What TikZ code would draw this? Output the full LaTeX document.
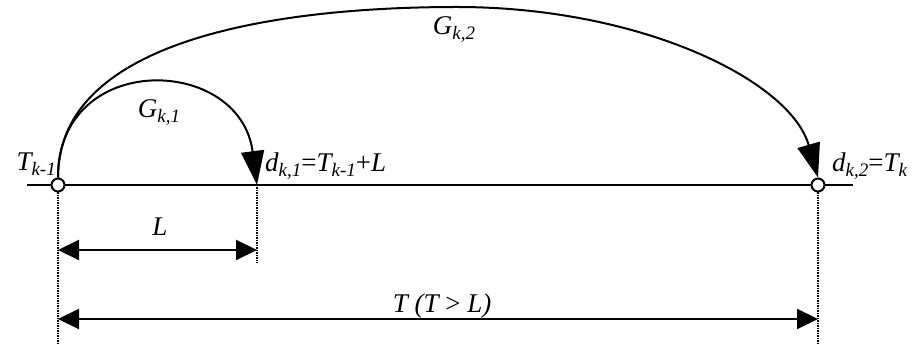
\documentclass[tikz,border=0pt]{standalone}
\usepackage{fontspec}
\setmainfont{Liberation Serif}
\usetikzlibrary{positioning, arrows.meta}
\newcommand{\lowidx}[1]{\raisebox{-0.35ex}{\fontsize{19}{22}\selectfont #1}}

\begin{document}
\begin{tikzpicture}[x=1pt, y=-1pt,
    tpoint/.style={circle, draw, line width=2pt, fill=white, inner sep=0pt, minimum size=13pt},
    lbl/.style={font=\fontsize{27}{32}\selectfont\itshape, inner sep=0pt},
    jump/.style={line width=2pt, -{Triangle[length=34pt, width=23pt]}},
    dim/.style={line width=2pt, {Triangle[length=21pt, width=20pt]}-{Triangle[length=21pt, width=20pt]}},
    guide/.style={densely dotted, line width=1.5pt}
]
\useasboundingbox (0,0) rectangle (917,344);

% Time axis
\coordinate (ax0) at (27,185);
\coordinate (ax1) at (853,185);
\draw[line width=2pt] (ax0) -- (ax1);
\coordinate (dk1) at (257,185);

% Dotted guides
\coordinate (g0) at (58,344);
\coordinate (g1) at (257,263);
\coordinate (g2) at (818,344);
\draw[guide] (dk1) -- (g1);

% Jumps
\node[tpoint] (tk1) at (58,185) {};
\node[tpoint] (tk) at (818,185) {};
\coordinate (top) at (457,7);
\draw[guide] (tk1.south) -- (g0);
\draw[guide] (tk.south) -- (g2);
\draw[jump] (tk1.north) .. controls (58,50) and (240,55) .. (dk1);
\draw[jump] (tk1.north) .. controls (58,35) and (290,7) .. (top)
    .. controls (640,7) and (790,80) .. (tk.north);

% Dimensions
\coordinate (l0) at (58,250);
\coordinate (l1) at (257,250);
\coordinate (t0) at (58,319);
\coordinate (t1) at (818,319);
\draw[dim] (l0) -- (l1);
\draw[dim] (t0) -- (t1);

% Labels
\node[lbl, anchor=base east] (tk1lbl) at (56,171) {T\lowidx{k-1}};
\node[lbl, anchor=base west] (dk1lbl) at (265,172) {d\lowidx{k,1}\upshape{=}\itshape T\lowidx{k-1}\upshape{+}\itshape L};
\node[lbl, anchor=base west] (dk2lbl) at (832,172) {d\lowidx{k,2}\upshape{=}\itshape T\lowidx{k}};
\node[lbl, anchor=base] (g1lbl) at (159,118) {G\lowidx{k,1}};
\node[lbl, anchor=base] (g2lbl) at (454,35) {G\lowidx{k,2}};
\node[lbl, anchor=base] (llbl) at (160,236) {L};
\node[lbl, anchor=base] (tlbl) at (442,312) {T (T {\upshape>} L)};

\end{tikzpicture}
\end{document}
